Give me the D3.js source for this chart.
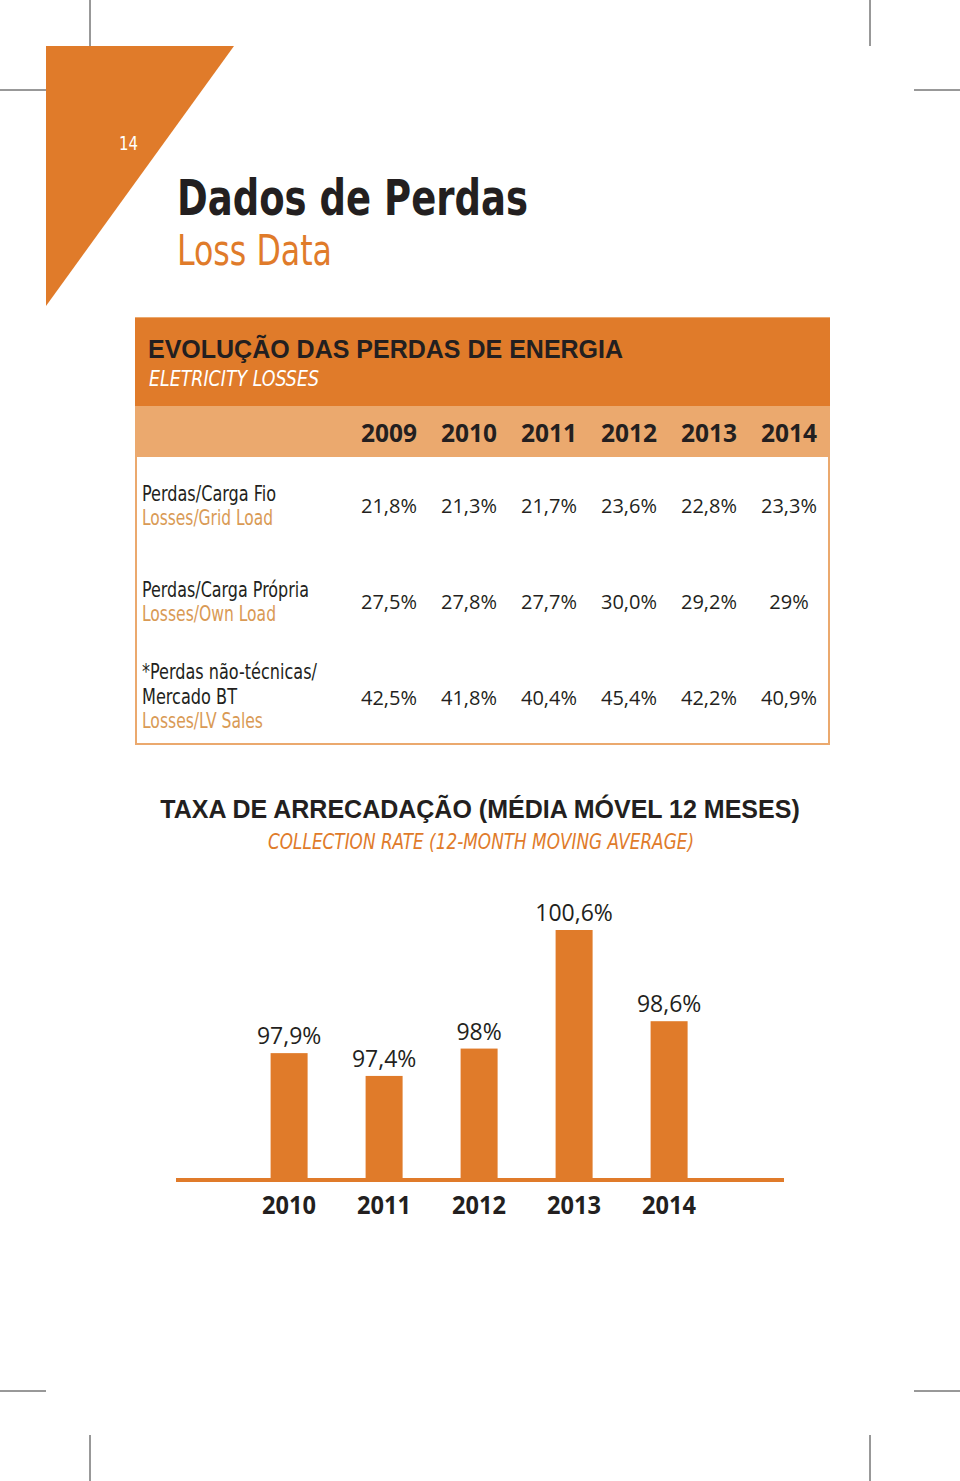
<!DOCTYPE html>
<html><head><meta charset="utf-8">
<script src="https://cdn.jsdelivr.net/npm/d3@7"></script>
<style>
html,body{margin:0;padding:0;background:#fff;}
svg{display:block;}
</style></head>
<body>
<script>
// ---- data ----
const tableYears = ["2009","2010","2011","2012","2013","2014"];
const rowLabelsPt = [["Perdas/Carga Fio"],["Perdas/Carga Própria"],["*Perdas não-técnicas/","Mercado BT"]];
const rowLabelsEn = ["Losses/Grid Load","Losses/Own Load","Losses/LV Sales"];
const gridLoad = ["21,8%","21,3%","21,7%","23,6%","22,8%","23,3%"];
const ownLoad  = ["27,5%","27,8%","27,7%","30,0%","29,2%","29%"];
const lvSales  = ["42,5%","41,8%","40,4%","45,4%","42,2%","40,9%"];
const chartYears = ["2010","2011","2012","2013","2014"];
const collectionRate = [97.9, 97.4, 98.0, 100.6, 98.6];
const collectionLabels = ["97,9%","97,4%","98%","100,6%","98,6%"];

const W = 960, H = 1481;
const ORANGE = "#E07B2A", LIGHT = "#EBA96E", TAN = "#D99A55", DARK = "#231f20";
const NARROW = "'DejaVu Sans Condensed','Liberation Sans',sans-serif";
const SANS = "'Liberation Sans',Arial,sans-serif";
const NUM = "'Open Sans','Noto Sans',sans-serif";

const svg = d3.select("body").append("svg").attr("width", W).attr("height", H);

// narrow text helper: condense glyphs to a target width (emulates a condensed face)
function narrowText(g, x, y, text, size, width, opts = {}) {
  const t = g.append("text").attr("x", x).attr("y", y)
    .attr("fill", opts.fill || DARK)
    .style("font-family", NARROW).style("font-size", size + "px")
    .style("font-weight", opts.bold ? "bold" : "normal")
    .style("font-style", opts.italic ? "italic" : "normal")
    .text(text);
  if (opts.anchor) t.attr("text-anchor", opts.anchor);
  if (width) t.attr("textLength", width).attr("lengthAdjust", "spacingAndGlyphs");
  return t;
}

// crop marks
const marks = [[90,0,90,46],[870,0,870,46],[0,90,46,90],[914,90,960,90],
  [0,1391,46,1391],[914,1391,960,1391],[90,1435,90,1481],[870,1435,870,1481]];
svg.selectAll("line.crop").data(marks).join("line").attr("class","crop")
  .attr("x1",d=>d[0]).attr("y1",d=>d[1]).attr("x2",d=>d[2]).attr("y2",d=>d[3])
  .attr("stroke","#333").attr("stroke-width",1);

// triangle
svg.append("path").attr("d","M46,46 L234,46 L46,306 Z").attr("fill",ORANGE);
narrowText(svg, 119, 150, "14", 20, 19, {fill:"#fff"});

// titles
narrowText(svg, 177, 215, "Dados de Perdas", 50, 351, {bold:true});
narrowText(svg, 177, 265, "Loss Data", 42, 155, {fill:ORANGE});

// ---- table ----
const tx0 = 136, tx1 = 829;
svg.append("rect").attr("x",tx0).attr("y",318).attr("width",tx1-tx0).attr("height",426)
  .attr("fill","#fff").attr("stroke",LIGHT).attr("stroke-width",2);
svg.append("rect").attr("x",tx0-1).attr("y",318).attr("width",tx1-tx0+2).attr("height",88).attr("fill",ORANGE);
svg.append("rect").attr("x",tx0-1).attr("y",406).attr("width",tx1-tx0+2).attr("height",51).attr("fill",LIGHT);
svg.append("text").attr("x",148).attr("y",358).attr("fill",DARK)
  .style("font-family",SANS).style("font-weight","bold").style("font-size","25px")
  .text("EVOLUÇÃO DAS PERDAS DE ENERGIA");
narrowText(svg, 149, 386, "ELETRICITY LOSSES", 21, 170, {fill:"#fff", italic:true});

const colX = d3.scalePoint().domain(tableYears).range([389, 789]);
svg.selectAll("text.yh").data(tableYears).join("text").attr("class","yh")
  .attr("x",d=>colX(d)).attr("y",442).attr("text-anchor","middle").attr("fill",DARK)
  .attr("textLength",56).attr("lengthAdjust","spacingAndGlyphs")
  .style("font-family",NUM).style("font-weight","bold").style("font-size","25px").text(d=>d);

const labelWidthsPt = [[134],[167],[175,95]];
const labelWidthsEn = [131,134,121];
const rows = [
  {vals: gridLoad, y: 501, vy: 513},
  {vals: ownLoad, y: 597, vy: 609},
  {vals: lvSales, y: 679, vy: 705}
];
rows.forEach((r, ri) => {
  const pt = rowLabelsPt[ri];
  pt.forEach((t,i) => narrowText(svg, 142, r.y + i*25, t, 21, labelWidthsPt[ri][i]));
  narrowText(svg, 142, r.y + pt.length*25 - 1, rowLabelsEn[ri], 21, labelWidthsEn[ri], {fill:TAN});
  svg.selectAll(null).data(r.vals).join("text")
    .attr("x",(d,i)=>colX(tableYears[i])).attr("y",r.vy).attr("text-anchor","middle").attr("fill",DARK)
    .style("font-family",NUM).style("font-size","20px").text(d=>d);
});

// ---- bar chart ----
svg.append("text").attr("x",480).attr("y",818).attr("text-anchor","middle").attr("fill",DARK)
  .style("font-family",SANS).style("font-weight","bold").style("font-size","25px")
  .text("TAXA DE ARRECADAÇÃO (MÉDIA MÓVEL 12 MESES)");
narrowText(svg, 481, 849, "COLLECTION RATE (12-MONTH MOVING AVERAGE)", 22, 426,
  {fill:ORANGE, italic:true, anchor:"middle"});

const baseY = 1179;
const x = d3.scaleBand().domain(chartYears).range([270.6, 687.6]).paddingInner(0.6105).paddingOuter(0);
const y = d3.scaleLinear().domain([95.14, 100.6]).range([baseY, 930]);

svg.selectAll("rect.bar").data(collectionRate).join("rect").attr("class","bar")
  .attr("x",(d,i)=>x(chartYears[i])).attr("width",x.bandwidth())
  .attr("y",d=>y(d)).attr("height",d=>baseY-y(d)).attr("fill",ORANGE);

svg.selectAll("text.bl").data(collectionRate).join("text").attr("class","bl")
  .attr("x",(d,i)=>x(chartYears[i])+x.bandwidth()/2).attr("y",d=>y(d)-9)
  .attr("text-anchor","middle").attr("fill",DARK)
  .style("font-family",NUM).style("font-size","23px").text((d,i)=>collectionLabels[i]);

svg.append("line").attr("x1",176).attr("x2",784).attr("y1",baseY+1).attr("y2",baseY+1)
  .attr("stroke",ORANGE).attr("stroke-width",4);

const xAxis = d3.axisBottom(x).tickSize(0).tickPadding(0);
const ax = svg.append("g").attr("transform",`translate(0,${baseY})`).call(xAxis);
ax.select(".domain").remove();
ax.selectAll("text").attr("fill",DARK).attr("y",35).attr("dy",null)
  .attr("textLength",54).attr("lengthAdjust","spacingAndGlyphs")
  .style("font-family",NUM).style("font-weight","bold").style("font-size","25px");
</script>
</body></html>
